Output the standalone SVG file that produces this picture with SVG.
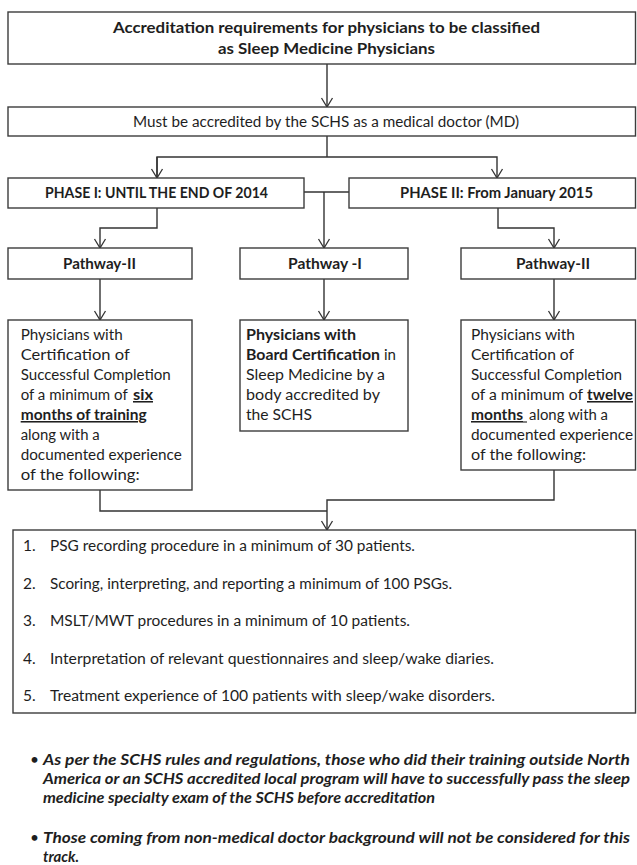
<svg xmlns="http://www.w3.org/2000/svg" width="637" height="865" viewBox="0 0 637 865">
<defs>
<style>
text{font-family:Lato,"Open Sans","Liberation Sans",sans-serif;fill:#1e1e1e;font-size:15.5px}
.b{font-weight:bold}
.u{text-decoration:underline}
.t{font-weight:bold;font-size:16px}
.n{font-weight:bold;font-style:italic;font-size:15.5px}
.box{fill:#fff;stroke:#3c3c3c;stroke-width:1.4}
.c{fill:none;stroke:#333;stroke-width:1.4}
</style>
<marker id="ah" markerUnits="userSpaceOnUse" markerWidth="12" markerHeight="14" viewBox="-2 -7 12 14" refX="9" refY="0" orient="auto" overflow="visible">
<path d="M0,-5.5 L9,0 L0,5.5" fill="none" stroke="#333" stroke-width="1.3"/>
</marker>
</defs>
<rect width="637" height="865" fill="#fff"/>

<g id="connectors">
<line class="c" x1="327" y1="64" x2="327" y2="107" marker-end="url(#ah)"/>
<polyline class="c" points="327,136 327,157"/>
<polyline class="c" points="157,178 157,157 497,157 497,178" marker-end="url(#ah)"/>
<line class="c" x1="157" y1="157" x2="157" y2="178" marker-end="url(#ah)"/>
<line class="c" x1="304" y1="192" x2="349" y2="192"/>
<line class="c" x1="324" y1="192" x2="324" y2="248" marker-end="url(#ah)"/>
<polyline class="c" points="157,208 157,228 100,228 100,248" marker-end="url(#ah)"/>
<polyline class="c" points="498,208 498,228 554,228 554,248" marker-end="url(#ah)"/>
<line class="c" x1="100" y1="279" x2="100" y2="320" marker-end="url(#ah)"/>
<line class="c" x1="324" y1="279" x2="324" y2="320" marker-end="url(#ah)"/>
<line class="c" x1="554" y1="279" x2="554" y2="320" marker-end="url(#ah)"/>
<polyline class="c" points="100,490 100,511 327,511"/>
<polyline class="c" points="554,470 554,500 327,500 327,530" marker-end="url(#ah)"/>
</g>

<g id="title">
<rect class="box" x="8" y="12" width="627.5" height="52"/>
<text class="t" x="113" y="33" textLength="427" lengthAdjust="spacingAndGlyphs">Accreditation requirements for physicians to be classified</text>
<text class="t" x="218" y="54" textLength="217" lengthAdjust="spacingAndGlyphs">as Sleep Medicine Physicians</text>
</g>

<g id="md">
<rect class="box" x="8" y="107" width="627.5" height="29"/>
<text x="133" y="127" textLength="386" lengthAdjust="spacingAndGlyphs">Must be accredited by the SCHS as a medical doctor (MD)</text>
</g>

<g id="phase1">
<rect class="box" x="8" y="178" width="296" height="30"/>
<text class="b" x="45" y="198" textLength="223" lengthAdjust="spacingAndGlyphs">PHASE I: UNTIL THE END OF 2014</text>
</g>

<g id="phase2">
<rect class="box" x="349" y="178" width="286.5" height="30"/>
<text class="b" x="400" y="198" textLength="193" lengthAdjust="spacingAndGlyphs">PHASE II: From January 2015</text>
</g>

<g id="pathway2-left">
<rect class="box" x="8" y="248" width="184" height="31"/>
<text class="b" x="63" y="269" textLength="73" lengthAdjust="spacingAndGlyphs">Pathway-II</text>
</g>

<g id="pathway1">
<rect class="box" x="240" y="248" width="168" height="31"/>
<text class="b" x="288" y="269" textLength="74" lengthAdjust="spacingAndGlyphs">Pathway -I</text>
</g>

<g id="pathway2-right">
<rect class="box" x="461" y="248" width="174.5" height="31"/>
<text class="b" x="516" y="269" textLength="74" lengthAdjust="spacingAndGlyphs">Pathway-II</text>
</g>

<g id="desc-left">
<rect class="box" x="8" y="320" width="184" height="170"/>
<text x="20.7" y="340" textLength="102" lengthAdjust="spacingAndGlyphs">Physicians with</text>
<text x="20.7" y="360" textLength="109" lengthAdjust="spacingAndGlyphs">Certification of</text>
<text x="20.7" y="380" textLength="150" lengthAdjust="spacingAndGlyphs">Successful Completion</text>
<text x="20.7" y="400" textLength="107" lengthAdjust="spacingAndGlyphs">of a minimum of</text>
<text class="b u" x="133" y="400" textLength="20" lengthAdjust="spacingAndGlyphs">six</text>
<text class="b u" x="20.7" y="420" textLength="126" lengthAdjust="spacingAndGlyphs">months of training</text>
<text x="20.7" y="440" textLength="79" lengthAdjust="spacingAndGlyphs">along with a</text>
<text x="20.7" y="460" textLength="161" lengthAdjust="spacingAndGlyphs">documented experience</text>
<text x="20.7" y="480" textLength="119" lengthAdjust="spacingAndGlyphs">of the following:</text>
</g>

<g id="desc-middle">
<rect class="box" x="240" y="320" width="168" height="111"/>
<text class="b" x="246" y="340" textLength="110" lengthAdjust="spacingAndGlyphs">Physicians with</text>
<text class="b" x="246" y="360" textLength="134" lengthAdjust="spacingAndGlyphs">Board Certification</text>
<text x="384" y="360" textLength="12" lengthAdjust="spacingAndGlyphs">in</text>
<text x="246" y="380" textLength="139" lengthAdjust="spacingAndGlyphs">Sleep Medicine by a</text>
<text x="246" y="400" textLength="134" lengthAdjust="spacingAndGlyphs">body accredited by</text>
<text x="246" y="420" textLength="66" lengthAdjust="spacingAndGlyphs">the SCHS</text>
</g>

<g id="desc-right">
<rect class="box" x="461" y="320" width="174.5" height="150"/>
<text x="471" y="340" textLength="104" lengthAdjust="spacingAndGlyphs">Physicians with</text>
<text x="471" y="360" textLength="103" lengthAdjust="spacingAndGlyphs">Certification of</text>
<text x="471" y="380" textLength="151" lengthAdjust="spacingAndGlyphs">Successful Completion</text>
<text x="471" y="400" textLength="112" lengthAdjust="spacingAndGlyphs">of a minimum of</text>
<text class="b u" x="587" y="400" textLength="46" lengthAdjust="spacingAndGlyphs">twelve</text>
<text class="b u" x="471" y="420" textLength="52" lengthAdjust="spacingAndGlyphs">months</text>
<line x1="523" y1="422" x2="527" y2="422" stroke="#1e1e1e" stroke-width="1.1"/>
<text x="529" y="420" textLength="79" lengthAdjust="spacingAndGlyphs">along with a</text>
<text x="471" y="440" textLength="162" lengthAdjust="spacingAndGlyphs">documented experience</text>
<text x="471" y="460" textLength="115" lengthAdjust="spacingAndGlyphs">of the following:</text>
</g>

<g id="requirements">
<rect class="box" x="13" y="530" width="622.5" height="183"/>
<text x="23" y="551">1.</text>
<text x="50" y="551" textLength="365" lengthAdjust="spacingAndGlyphs">PSG recording procedure in a minimum of 30 patients.</text>
<text x="23" y="589">2.</text>
<text x="50" y="589" textLength="402" lengthAdjust="spacingAndGlyphs">Scoring, interpreting, and reporting a minimum of 100 PSGs.</text>
<text x="23" y="626">3.</text>
<text x="50" y="626" textLength="360" lengthAdjust="spacingAndGlyphs">MSLT/MWT procedures in a minimum of 10 patients.</text>
<text x="23" y="664">4.</text>
<text x="50" y="664" textLength="444" lengthAdjust="spacingAndGlyphs">Interpretation of relevant questionnaires and sleep/wake diaries.</text>
<text x="23" y="701">5.</text>
<text x="50" y="701" textLength="445" lengthAdjust="spacingAndGlyphs">Treatment experience of 100 patients with sleep/wake disorders.</text>
</g>

<g id="notes">
<text x="30" y="765" font-size="12">•</text>
<text class="n" x="43" y="765" textLength="587" lengthAdjust="spacingAndGlyphs">As per the SCHS rules and regulations, those who did their training outside North</text>
<text class="n" x="43" y="784" textLength="587" lengthAdjust="spacingAndGlyphs">America or an SCHS accredited local program will have to successfully pass the sleep</text>
<text class="n" x="43" y="803" textLength="392" lengthAdjust="spacingAndGlyphs">medicine specialty exam of the SCHS before accreditation</text>
<text x="30" y="843" font-size="12">•</text>
<text class="n" x="43" y="843" textLength="587" lengthAdjust="spacingAndGlyphs">Those coming from non-medical doctor background will not be considered for this</text>
<text class="n" x="43" y="862" textLength="36" lengthAdjust="spacingAndGlyphs">track.</text>
</g>
</svg>
